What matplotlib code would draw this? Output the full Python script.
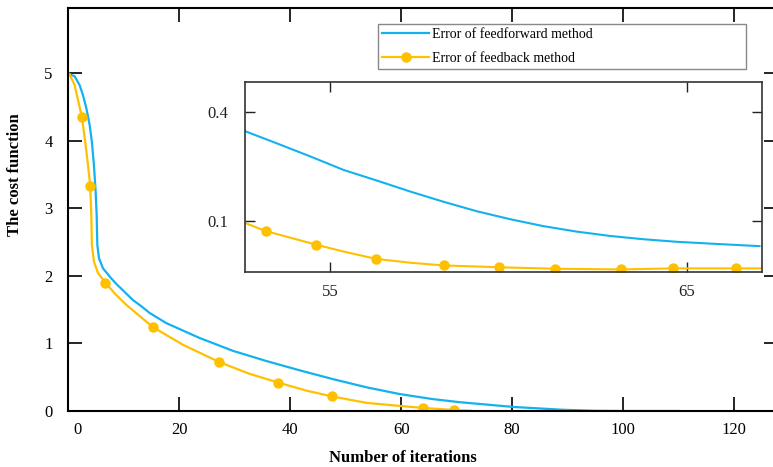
import matplotlib
matplotlib.use("Agg")
import matplotlib.pyplot as plt
import matplotlib.transforms as mtransforms

plt.rcParams['font.family'] = ['Liberation Serif', 'DejaVu Serif']

# ---------------- data ----------------
ff_x = [0, 0.29, 1.19, 2.09, 2.7, 3.3, 3.9, 4.3, 4.67, 4.98, 5.16, 5.28, 5.58, 6.3,
        7.8, 8.7, 10.2, 11.7, 13.2, 14.7, 17.7, 23.7, 29.7, 35.7, 41.8, 47.8, 53.8,
        59.8, 65.8, 70.6, 80.2, 89.2, 95, 100, 110]
ff_y = [5.0, 4.98, 4.95, 4.82, 4.67, 4.48, 4.23, 3.98, 3.64, 3.24, 2.90, 2.46, 2.26, 2.11,
        1.96, 1.88, 1.76, 1.64, 1.55, 1.45, 1.30, 1.08, 0.89, 0.74, 0.60, 0.47, 0.35,
        0.25, 0.175, 0.13, 0.06, 0.018, 0.003, 0.0, 0.0]

fb_x = [0, 0.29, 1.19, 2.5, 3.1, 3.6, 4.0, 4.2, 4.3, 4.67, 5.4, 6.72, 8.4, 10.5, 15.3,
        20.7, 27.2, 32.7, 37.9, 43, 47.6, 53.8, 59.8, 64.0, 69.5, 72.5]
fb_y = [5.0, 4.98, 4.82, 4.35, 3.98, 3.64, 3.33, 2.90, 2.46, 2.21, 2.04, 1.90, 1.74, 1.57, 1.24,
        0.98, 0.725, 0.55, 0.42, 0.30, 0.215, 0.12, 0.075, 0.045, 0.015, 0.005]
fb_mark_x = [2.5, 4.0, 6.72, 15.3, 27.2, 37.9, 47.6, 64.0, 69.5]

in_ff_x = [52.58, 53.51, 54.45, 55.38, 56.31, 57.24, 58.17, 59.1, 60.04, 60.97,
           61.9, 62.84, 63.77, 64.7, 65.64, 67.03]
in_ff_y = [0.348, 0.313, 0.277, 0.240, 0.211, 0.181, 0.153, 0.127, 0.105, 0.086,
           0.071, 0.059, 0.050, 0.043, 0.038, 0.031]

in_fb_x = [52.58, 53.19, 54.61, 55.38, 56.29, 57.24, 58.19, 59.74, 61.3, 63.15, 64.61, 66.38, 67.1]
in_fb_y = [0.096, 0.0725, 0.035, 0.016, -0.004, -0.0145, -0.022, -0.027, -0.031, -0.033,
           -0.030, -0.030, -0.030]
in_fb_mark_x = [53.19, 54.61, 56.29, 58.19, 59.74, 61.3, 63.15, 64.61, 66.38]

main_xticks = [0, 20, 40, 60, 80, 100, 120]
main_yticks = [0, 1, 2, 3, 4, 5]
inset_xticks = [55, 65]
inset_yticks = [0.1, 0.4]

labels = ["Error of feedforward method", "Error of feedback method"]
xlabel = "Number of iterations"
ylabel = "The cost function"

BLUE = '#13B2EE'
YELLOW = '#FFC000'

W, H = 773, 467
fig = plt.figure(figsize=(W / 100, H / 100), dpi=100)

# main axes (right spine lies just outside the picture)
L, R, T, B = 68, 778, 8, 411
ax = fig.add_axes([L / W, 1 - B / H, (R - L) / W, (B - T) / H])
l1, = ax.plot(ff_x, ff_y, color=BLUE, lw=1.6, label=labels[0])
mk = [fb_x.index(v) for v in fb_mark_x]
l2, = ax.plot(fb_x, fb_y, color=YELLOW, lw=1.6, marker='o', ms=6.5,
              markevery=mk, label=labels[1])
ax.set_xlim(0, 127.9)
ax.set_ylim(0, 5.96)
ax.set_xticks(main_xticks)
ax.set_yticks(main_yticks)
ax.tick_params(direction='in', top=True, right=True, length=10, width=1.2,
               labelsize=12)
ax.tick_params(axis='x', pad=8)
ax.tick_params(axis='y', pad=11)
for s in ax.spines.values():
    s.set_linewidth(1.5)
# shift the "0" x tick label a bit right, as in the reference
off = mtransforms.ScaledTranslation(10 / 100, 0, fig.dpi_scale_trans)
lab0 = ax.get_xticklabels()[0]
lab0.set_transform(lab0.get_transform() + off)

ax.set_xlabel(xlabel, fontsize=12, fontweight='bold', va='center')
ax.xaxis.set_label_coords(403 / W, 1 - 458 / H, transform=fig.transFigure)
ax.set_ylabel(ylabel, fontsize=12, fontweight='bold', va='center')
ax.yaxis.set_label_coords(15 / W, 1 - 175 / H, transform=fig.transFigure)

# legend
lx0, lx1, ly0, ly1 = 378, 746, 24, 74
leg = fig.legend(handles=[l1, l2], labels=labels, loc='upper left',
                 bbox_to_anchor=(lx0 / W, 1 - ly1 / H, (lx1 - lx0) / W, (ly1 - ly0) / H),
                 mode='expand', fontsize=10, handlelength=3.4, handletextpad=0.2,
                 borderaxespad=0, fancybox=False, framealpha=1, edgecolor='#888888',
                 borderpad=0.3, labelspacing=0.75)
leg.get_frame().set_linewidth(1.0)

# inset
iL, iR, iT, iB = 244.5, 762, 82, 272
ax2 = fig.add_axes([iL / W, 1 - iB / H, (iR - iL) / W, (iB - iT) / H])
ax2.plot(in_ff_x, in_ff_y, color=BLUE, lw=1.5)
mk2 = [in_fb_x.index(v) for v in in_fb_mark_x]
ax2.plot(in_fb_x, in_fb_y, color=YELLOW, lw=1.5, marker='o', ms=6.5, markevery=mk2)
ax2.set_xlim(52.6, 67.1)
ax2.set_ylim(-0.04, 0.4816)
ax2.set_xticks(inset_xticks)
ax2.set_yticks(inset_yticks)
ax2.tick_params(direction='in', top=True, right=True, length=7, width=1.0,
                labelsize=12, colors='#222222')
ax2.tick_params(axis='x', pad=9)
ax2.tick_params(axis='y', pad=12)
for s in ax2.spines.values():
    s.set_linewidth(1.2)
    s.set_color('#333333')

fig.savefig('out.png', dpi=100)
